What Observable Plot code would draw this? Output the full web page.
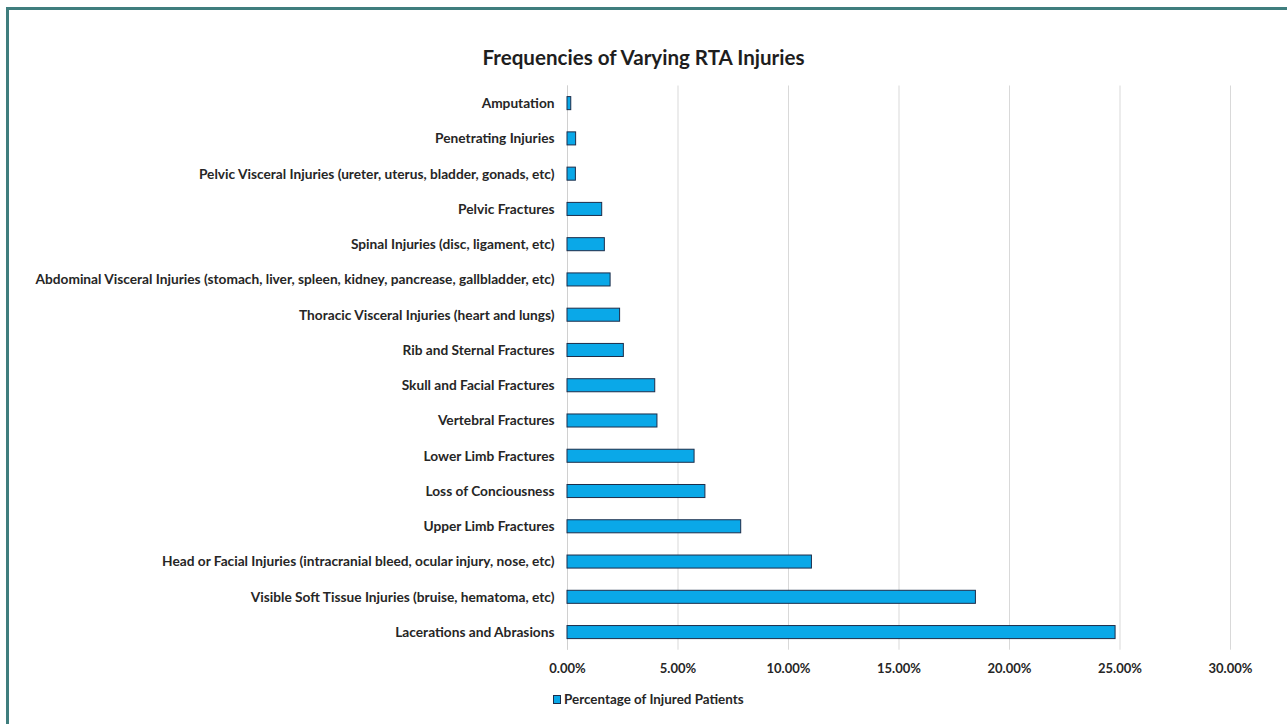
<!DOCTYPE html>
<html>
<head>
<meta charset="utf-8">
<script src="https://cdn.jsdelivr.net/npm/d3@7"></script>
<script src="https://cdn.jsdelivr.net/npm/@observablehq/plot@0.6"></script>
<style>
  html, body { margin: 0; padding: 0; background: #fff; }
  #frame { position: relative; width: 1287px; height: 724px; overflow: hidden; background: #fff; font-family: Lato, "Open Sans", sans-serif; }
  #border-top { position: absolute; left: 6px; top: 7px; right: 0; height: 3px; background: #3f7e7e; }
  #border-left { position: absolute; left: 6px; top: 7px; bottom: 0; width: 3px; background: #3f7e7e; }
  #title { position: absolute; top: 46px; left: 0; width: 1287px; text-align: center; font-weight: 700; color: #1e1e1e; line-height: 1.1; }
  #chart { position: absolute; left: 0; top: 80px; }
  #legend { position: absolute; top: 691px; left: 553px; display: flex; align-items: center; font-weight: 700; color: #262626; line-height: 1.2; }
  #legend .swatch { width: 6px; height: 7px; background: #0aa8e8; border: 1px solid #1d2d4a; margin-right: 3px; }
</style>
</head>
<body>
<div id="frame">
  <div id="border-top"></div>
  <div id="border-left"></div>
  <div id="title">Frequencies of Varying RTA Injuries</div>
  <div id="chart"></div>
  <div id="legend"><span class="swatch"></span><span id="legend-text">Percentage of Injured Patients</span></div>
</div>
<script>
const categories = [
  "Amputation",
  "Penetrating Injuries",
  "Pelvic Visceral Injuries (ureter, uterus, bladder, gonads, etc)",
  "Pelvic Fractures",
  "Spinal Injuries (disc, ligament, etc)",
  "Abdominal Visceral Injuries (stomach, liver, spleen, kidney, pancrease, gallbladder, etc)",
  "Thoracic Visceral Injuries (heart and lungs)",
  "Rib and Sternal Fractures",
  "Skull and Facial Fractures",
  "Vertebral Fractures",
  "Lower Limb Fractures",
  "Loss of Conciousness",
  "Upper Limb Fractures",
  "Head or Facial Injuries (intracranial bleed, ocular injury, nose, etc)",
  "Visible Soft Tissue Injuries (bruise, hematoma, etc)",
  "Lacerations and Abrasions"
];
const percentages = [0.17, 0.39, 0.38, 1.57, 1.69, 1.95, 2.38, 2.55, 3.97, 4.07, 5.75, 6.24, 7.86, 11.06, 18.48, 24.8];
const xTicks = [0, 5, 10, 15, 20, 25, 30];
const seriesName = "Percentage of Injured Patients";

const data = categories.map((c, i) => ({category: c, value: percentages[i]}));

const FONT = "Lato, 'Open Sans', sans-serif";
const ctx = document.createElement("canvas").getContext("2d");
function fitSize(text, weight, target) {
  ctx.font = `${weight} 12px ${FONT}`;
  const w = ctx.measureText(text).width;
  return 12 * target / w;
}
const longest = categories[5];
const labelSize = fitSize(longest, 700, 520);
const titleSize = fitSize("Frequencies of Varying RTA Injuries", 700, 324);
const legendSize = fitSize(seriesName, 700, 180);
const tickSize = fitSize("30.00%", 700, 44);

document.getElementById("title").style.fontSize = titleSize + "px";
document.getElementById("legend").style.fontSize = legendSize + "px";

const chart = Plot.plot({
  width: 1287,
  height: 600,
  marginLeft: 567,
  marginRight: 57,
  marginTop: 5.5,
  marginBottom: 30.3,
  style: {fontFamily: FONT, fontSize: labelSize + "px", color: "#262626", background: "transparent", overflow: "visible"},
  x: {domain: [0, 30]},
  y: {domain: categories, paddingInner: 0.63, paddingOuter: 0.315, round: false},
  marks: [
    Plot.gridX(xTicks, {stroke: "#d9d9d9", strokeOpacity: 1, strokeWidth: 1}),
    Plot.ruleX([0], {stroke: "#d0d0d0", strokeWidth: 1}),
    Plot.barX(data, {x: "value", y: "category", fill: "#0aa8e8", stroke: "#1d2d4a", strokeWidth: 1}),
    Plot.axisX({ticks: xTicks, tickSize: 0, tickPadding: 14, tickFormat: d => d.toFixed(2) + "%", fontWeight: 700, fontSize: tickSize, label: null}),
    Plot.axisY({tickSize: 0, tickPadding: 13, fontWeight: 700, label: null})
  ]
});
document.getElementById("chart").appendChild(chart);
</script>
</body>
</html>
